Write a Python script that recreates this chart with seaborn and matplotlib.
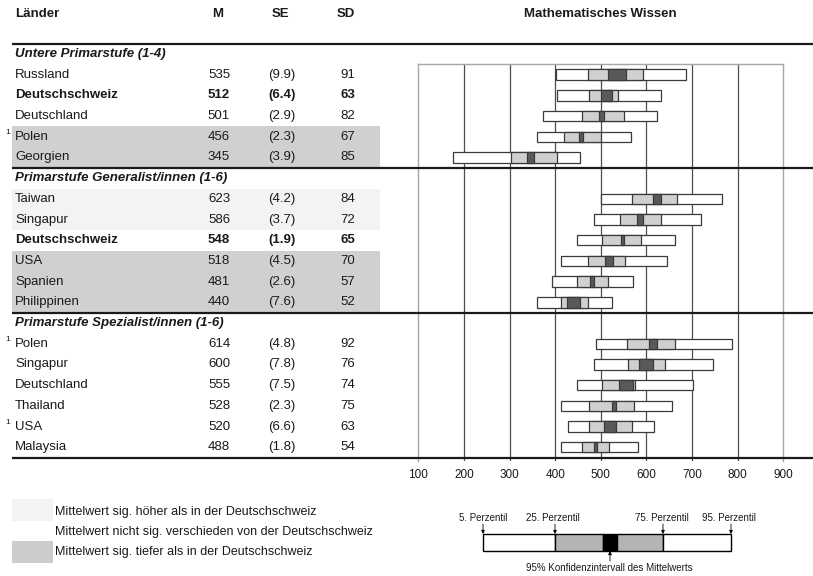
import matplotlib
matplotlib.use("Agg")
import matplotlib.pyplot as plt
from matplotlib.patches import Rectangle
import numpy as np
import pandas as pd
import seaborn as sns

# ---- data -------------------------------------------------------------
groups = ["Untere Primarstufe (1-4)",
          "Primarstufe Generalist/innen (1-6)",
          "Primarstufe Spezialist/innen (1-6)"]
group_of = [0, 0, 0, 0, 0, 1, 1, 1, 1, 1, 1, 2, 2, 2, 2, 2, 2]
countries = ["Russland", "Deutschschweiz", "Deutschland", "Polen", "Georgien",
             "Taiwan", "Singapur", "Deutschschweiz", "USA", "Spanien", "Philippinen",
             "Polen", "Singapur", "Deutschland", "Thailand", "USA", "Malaysia"]
footnote = ["", "", "", "1", "", "", "", "", "", "", "", "1", "", "", "", "1", ""]
# hi = mean sig. higher, lo = sig. lower, ns = not different, ref = Deutschschweiz
status = ["ns", "ref", "ns", "lo", "lo",
          "hi", "hi", "ref", "lo", "lo", "lo",
          "ns", "ns", "ns", "ns", "ns", "ns"]
mean = [535, 512, 501, 456, 345, 623, 586, 548, 518, 481, 440, 614, 600, 555, 528, 520, 488]
se = [9.9, 6.4, 2.9, 2.3, 3.9, 4.2, 3.7, 1.9, 4.5, 2.6, 7.6, 4.8, 7.8, 7.5, 2.3, 6.6, 1.8]
sd = [91, 63, 82, 67, 85, 84, 72, 65, 70, 57, 52, 92, 76, 74, 75, 63, 54]
p5 = [402, 404, 374, 361, 175, 500, 484, 447, 413, 394, 360, 489, 484, 447, 413, 429, 413]
p25 = [472, 475, 459, 420, 303, 568, 541, 502, 473, 447, 413, 557, 560, 503, 475, 475, 459]
p75 = [593, 538, 551, 500, 403, 666, 633, 589, 553, 516, 473, 662, 640, 576, 573, 569, 519]
p95 = [686, 633, 624, 566, 454, 765, 719, 662, 644, 571, 525, 787, 745, 701, 657, 617, 581]
score_ticks = [100, 200, 300, 400, 500, 600, 700, 800, 900]

df = pd.DataFrame(dict(group=group_of, country=countries, note=footnote, status=status,
                       M=mean, SE=se, SD=sd, p5=p5, p25=p25, p75=p75, p95=p95))
df["row"] = np.arange(len(df)) + df["group"] + 1
df["ci_lo"] = df["M"] - 1.96 * df["SE"]
df["ci_hi"] = df["M"] + 1.96 * df["SE"]

# ---- style ------------------------------------------------------------
sns.set_theme(style="white")
plt.rcParams["font.family"] = ["Liberation Sans", "DejaVu Sans"]
plt.rcParams["text.color"] = "#1a1a1a"

W, H = 813, 576
fig = plt.figure(figsize=(W / 100, H / 100), dpi=100)

ROW_TOP, ROW_H = 43.6, 20.7


def ypx(i):
    return ROW_TOP + ROW_H * (i + 0.5)


# ---- box-plot panel --------------------------------------------------
x0, x1 = 418.3, 783.3
top_px, bot_px = ROW_TOP + ROW_H, 461
ax = fig.add_axes([x0 / W, 1 - bot_px / H, (x1 - x0) / W, (bot_px - top_px) / H])
ax.set_xlim(score_ticks[0], score_ticks[-1])
ax.set_ylim((bot_px - ROW_TOP) / ROW_H - 0.5, 0.5)
ax.set_xticks(score_ticks)
ax.set_yticks([])
ax.tick_params(axis="x", length=0, pad=6, labelsize=8.5, labelcolor="#1a1a1a")
ax.xaxis.grid(True, color="#4d4d4d", lw=0.9)
gl = ax.get_xgridlines()
gl[0].set_visible(False)
gl[-1].set_visible(False)
ax.set_axisbelow(True)
for s in ["left", "right", "top"]:
    ax.spines[s].set_visible(True)
    ax.spines[s].set_color("#a6a6a6")
    ax.spines[s].set_linewidth(1.0)
ax.spines["bottom"].set_visible(False)

edge = "#3a3a3a"
bh = 0.5
ax.barh(df["row"], df["p95"] - df["p5"], left=df["p5"], height=bh,
        color="white", edgecolor=edge, lw=0.9, zorder=3)
ax.barh(df["row"], df["p75"] - df["p25"], left=df["p25"], height=bh,
        color="#d0d0d0", edgecolor=edge, lw=0.9, zorder=4)
ax.barh(df["row"], df["ci_hi"] - df["ci_lo"], left=df["ci_lo"], height=bh,
        color="#595959", edgecolor=edge, lw=0.9, zorder=5)

# ---- table layer (pixel coordinates) ----------------------------------
tab = fig.add_axes([0, 0, 1, 1], zorder=5)
tab.set_xlim(0, W)
tab.set_ylim(H, 0)
tab.axis("off")
tab.patch.set_alpha(0)

fs = 9.5
tab.text(15, 14, "Länder", fontsize=fs, fontweight="bold", va="center", ha="left")
tab.text(218, 14, "M", fontsize=fs, fontweight="bold", va="center", ha="center")
tab.text(280, 14, "SE", fontsize=fs, fontweight="bold", va="center", ha="center")
tab.text(346, 14, "SD", fontsize=fs, fontweight="bold", va="center", ha="center")
tab.text((x0 + x1) / 2, 14, "Mathematisches Wissen", fontsize=fs,
         fontweight="bold", va="center", ha="center")

fills = {"hi": "#f3f3f3", "lo": "#d0d0d0"}
for _, r in df.iterrows():
    i = r["row"]
    if r["status"] in fills:
        tab.add_patch(Rectangle((12, ROW_TOP + ROW_H * i), 368, ROW_H,
                                facecolor=fills[r["status"]], edgecolor="none", zorder=0))
    wt = "bold" if r["status"] == "ref" else "normal"
    y = ypx(i)
    tab.text(15, y, r["country"], fontsize=fs, fontweight=wt, va="center", ha="left")
    tab.text(219, y, f"{r['M']:d}", fontsize=fs, fontweight=wt, va="center", ha="center")
    tab.text(282, y, f"({r['SE']:.1f})", fontsize=fs, fontweight=wt, va="center", ha="center")
    tab.text(348, y, f"{r['SD']:d}", fontsize=fs, fontweight=wt, va="center", ha="center")
    if r["note"]:
        tab.text(8, y - 4, r["note"], fontsize=6, va="center", ha="center")

for g, name in enumerate(groups):
    i = int(df.loc[df["group"] == g, "row"].min()) - 1
    tab.text(15, ypx(i), name, fontsize=fs, fontweight="bold", fontstyle="italic",
             va="center", ha="left")
    tab.plot([12, W], [ROW_TOP + ROW_H * i] * 2, color="#1a1a1a", lw=1.6,
             solid_capstyle="butt", zorder=6)
tab.plot([12, W], [ROW_TOP + ROW_H * 20] * 2, color="#1a1a1a", lw=1.6,
         solid_capstyle="butt", zorder=6)

# ---- legend: significance shading ------------------------------------
tab.add_patch(Rectangle((12, 499), 41, 22, facecolor="#f3f3f3", edgecolor="none"))
tab.add_patch(Rectangle((12, 541), 41, 22, facecolor="#cccccc", edgecolor="none"))
lf = 9
tab.text(55, 512, "Mittelwert sig. höher als in der Deutschschweiz", fontsize=lf, va="center")
tab.text(55, 532, "Mittelwert nicht sig. verschieden von der Deutschschweiz", fontsize=lf, va="center")
tab.text(55, 552, "Mittelwert sig. tiefer als in der Deutschschweiz", fontsize=lf, va="center")

# ---- legend: box explanation -----------------------------------------
ky0, ky1 = 534, 551
kx = [483, 555, 603, 617, 663, 731]
kcol = ["white", "#b4b4b4", "black", "#b4b4b4", "white"]
for a, b, c in zip(kx[:-1], kx[1:], kcol):
    tab.add_patch(Rectangle((a, ky0), b - a, ky1 - ky0, facecolor=c,
                            edgecolor="black", lw=1.0))
sf = 7
for xp, lab in zip([483, 553, 662, 729],
                   ["5. Perzentil", "25. Perzentil", "75. Perzentil", "95. Perzentil"]):
    tab.text(xp, 518, lab, fontsize=sf, ha="center", va="center")
for xp in [483, 555, 663, 731]:
    tab.annotate("", xy=(xp, ky0), xytext=(xp, 524),
                 arrowprops=dict(arrowstyle="-|>", lw=0.6, color="black",
                                 mutation_scale=5, shrinkA=0, shrinkB=0))
tab.annotate("", xy=(610, ky1), xytext=(610, 561),
             arrowprops=dict(arrowstyle="-|>", lw=0.6, color="black",
                             mutation_scale=5, shrinkA=0, shrinkB=0))
tab.text(609, 568, "95% Konfidenzintervall des Mittelwerts", fontsize=sf,
         ha="center", va="center")

fig.savefig("out.png", dpi=100)
